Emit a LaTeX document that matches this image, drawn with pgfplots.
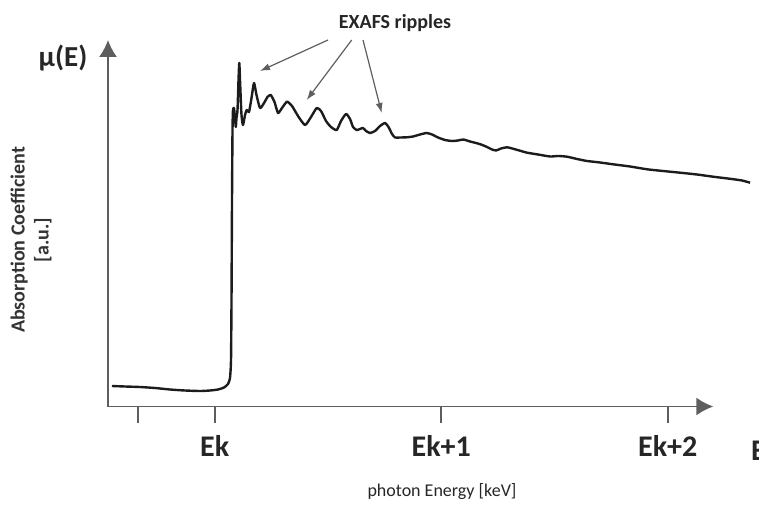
\documentclass[border=0pt]{standalone}
\usepackage{fontspec}
\setmainfont{Carlito}
\usepackage{pgfplots}
\pgfplotsset{compat=1.18}
\usepackage{pgfplotstable}
\usetikzlibrary{arrows.meta}

\definecolor{axisgray}{HTML}{5E5E5E}
\definecolor{curve}{HTML}{1C1C1C}

% absorption spectrum: energy relative to the K edge [keV], mu(E) [a.u.]
\pgfplotstableread{
x        y
-0.4534  0.205
-0.3960  0.200
-0.3298  0.195
-0.2636  0.185
-0.1974  0.170
-0.1311  0.160
-0.0649  0.155
-0.0208  0.160
 0.0146  0.170
 0.0411  0.190
 0.0587  0.225
 0.0675  0.285
 0.0720  0.465
 0.0742  1.065
 0.0764  2.065
 0.0786  2.765
 0.0808  2.965
 0.0852  2.985
 0.0896  2.885
 0.0932  2.795
 0.0962  2.885
 0.1007  2.965
 0.1051  3.265
 0.1086  3.435
 0.1126  3.215
 0.1183  2.915
 0.1249  2.815
 0.1338  2.915
 0.1413  2.965
 0.1514  2.945
 0.1625  3.085
 0.1735  3.235
 0.1845  3.115
 0.2000  2.985
 0.2177  3.035
 0.2331  3.095
 0.2472  3.115
 0.2640  3.045
 0.2795  2.935
 0.2971  2.985
 0.3192  3.048
 0.3413  3.005
 0.3678  2.905
 0.3987  2.815
 0.4252  2.895
 0.4503  2.985
 0.4693  2.955
 0.4914  2.855
 0.5135  2.795
 0.5386  2.765
 0.5576  2.855
 0.5797  2.925
 0.5974  2.875
 0.6106  2.795
 0.6269  2.765
 0.6415  2.775
 0.6547  2.785
 0.6680  2.755
 0.6857  2.735
 0.7077  2.755
 0.7298  2.805
 0.7519  2.835
 0.7673  2.795
 0.7828  2.725
 0.7960  2.690
 0.8181  2.690
 0.8477  2.692
 0.8755  2.700
 0.9064  2.720
 0.9360  2.735
 0.9594  2.720
 0.9859  2.690
 1.0168  2.665
 1.0477  2.655
 1.0742  2.660
 1.0976  2.670
 1.1272  2.650
 1.1536  2.635
 1.1757  2.620
 1.2022  2.595
 1.2243  2.570
 1.2420  2.560
 1.2640  2.580
 1.2905  2.592
 1.3214  2.575
 1.3523  2.555
 1.3788  2.538
 1.4274  2.520
 1.4804  2.500
 1.5157  2.505
 1.5554  2.498
 1.5996  2.475
 1.6437  2.455
 1.7011  2.440
 1.7585  2.422
 1.8336  2.400
 1.9086  2.372
 1.9793  2.355
 2.0543  2.338
 2.1294  2.320
 2.2000  2.298
 2.2751  2.277
 2.3280  2.260
 2.3634  2.238
}\spectrum

\begin{document}
\begin{tikzpicture}
\begin{axis}[
  at={(108pt,97.5pt)}, anchor=south west,
  scale only axis,
  width=605.3pt, height=366.5pt,
  xmin=-0.471, xmax=2.201,
  ymin=0, ymax=3.665,
  enlargelimits=false,
  clip=false,
  axis lines=left,
  axis line style={draw=axisgray, line width=1.7pt,
    -{Latex[length=17pt,width=18pt]}},
  xtick={-0.339,0,1,2},
  xticklabels={,Ek,Ek+1,Ek+2},
  ytick=\empty,
  tick align=outside,
  major tick length=16pt,
  every tick/.style={draw=axisgray, line width=1.6pt},
  xticklabel style={font=\fontsize{30}{30}\selectfont\bfseries,
    text=black!85, anchor=base, yshift=-34pt},
]
\addplot[curve, line width=2.4pt, line join=round, smooth, tension=0.35, no markers]
  table[x=x, y=y] {\spectrum};
\end{axis}

\begin{scope}[x=1pt, y=-1pt, shift={(0pt,504pt)}]
  % axis titles
  \node[font=\fontsize{29}{29}\selectfont\bfseries, text=black!85] at (63,58) {μ(E)};
  \node[font=\fontsize{20}{24}\selectfont\bfseries, text=black!80, rotate=90, align=center]
    at (31,240) {Absorption Coefficient\\{[a.u.]}};
  \node[font=\fontsize{18}{18}\selectfont, text=black!85] at (442,492) {photon Energy [keV]};
  \node[font=\fontsize{30}{30}\selectfont\bfseries, text=black!85, inner sep=0pt,
    anchor=base west] at (751,460) {E};
  % annotation
  \node[font=\fontsize{20}{20}\selectfont\bfseries, text=black!85] at (395,23) {EXAFS ripples};
  \begin{scope}[draw=axisgray, line width=1.2pt, -{Latex[length=10pt,width=7pt]}]
    \draw (328,40) -- (260,71);
    \draw (351.7,40) -- (306.7,100);
    \draw (363,40) -- (381.7,113);
  \end{scope}
\end{scope}

\pgfresetboundingbox
\useasboundingbox (0,0) rectangle (759pt,504pt);
\end{tikzpicture}
\end{document}
